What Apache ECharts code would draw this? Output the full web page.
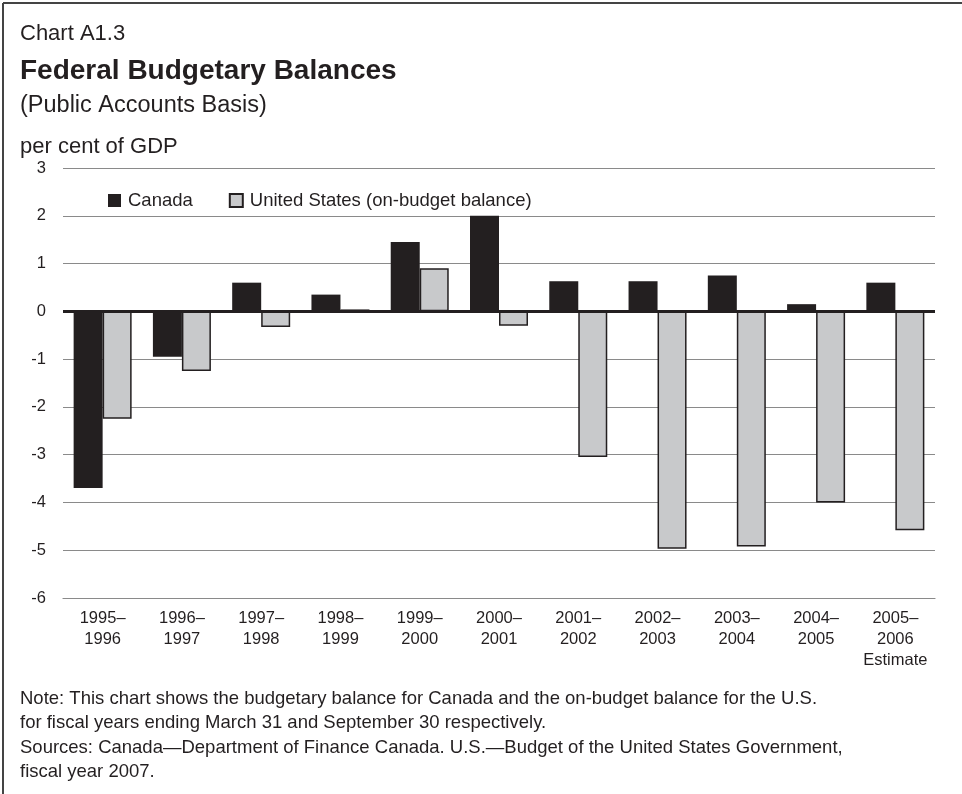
<!DOCTYPE html>
<html>
<head>
<meta charset="utf-8">
<script src="https://cdn.jsdelivr.net/npm/echarts@6/dist/echarts.min.js"></script>
<style>
  html, body { margin: 0; padding: 0; background: #fff; }
  #chart { width: 962px; height: 794px; }
</style>
</head>
<body>
<div id="chart"></div>
<script>
var years = ['1995–\n1996', '1996–\n1997', '1997–\n1998', '1998–\n1999', '1999–\n2000', '2000–\n2001',
             '2001–\n2002', '2002–\n2003', '2003–\n2004', '2004–\n2005', '2005–\n2006\nEstimate'];
var canada = [-3.7, -0.95, 0.6, 0.35, 1.45, 2.0, 0.63, 0.63, 0.75, 0.15, 0.6];
var unitedStates = [-2.25, -1.25, -0.33, 0.04, 0.9, -0.3, -3.05, -4.97, -4.92, -4.0, -4.58];

var ink = '#231f20';
var font = '"Liberation Sans", Arial, Helvetica, sans-serif';

var myChart = echarts.init(document.getElementById('chart'));

var option = {
    backgroundColor: '#fff',
    animation: false,
    textStyle: { fontFamily: font, color: ink },
    title: [{
        text: 'Chart A1.3',
        left: 15, top: 18,
        textStyle: { fontSize: 22, fontWeight: 'normal', color: ink, fontFamily: font }
    }, {
        text: 'Federal Budgetary Balances',
        left: 15, top: 52,
        textStyle: { fontSize: 28, fontWeight: 'bold', color: ink, fontFamily: font }
    }, {
        text: '(Public Accounts Basis)',
        left: 15, top: 89,
        textStyle: { fontSize: 23.5, fontWeight: 'normal', color: ink, fontFamily: font }
    }, {
        text: 'per cent of GDP',
        left: 15, top: 131,
        textStyle: { fontSize: 22, fontWeight: 'normal', color: ink, fontFamily: font }
    }],
    legend: {
        left: 103, top: 186,
        icon: 'rect',
        itemWidth: 13, itemHeight: 13,
        itemGap: 36,
        textStyle: { fontSize: 18.5, color: ink, fontFamily: font, padding: [0, 0, 0, 2] },
        data: ['Canada', 'United States (on-budget balance)']
    },
    grid: {
        left: 63, right: 27, top: 168, bottom: 196
    },
    xAxis: {
        type: 'category',
        data: years,
        axisLine: { onZero: false, lineStyle: { color: '#8a8a8a', width: 1.2 } },
        axisTick: { alignWithLabel: true, length: 6, lineStyle: { color: '#8a8a8a' } },
        axisLabel: {
            interval: 0,
            fontSize: 16.5, color: ink, fontFamily: font, lineHeight: 21, margin: 10
        }
    },
    yAxis: {
        type: 'value',
        min: -6, max: 3, interval: 1,
        axisLine: { show: false },
        axisTick: { show: false },
        axisLabel: { fontSize: 16.5, color: ink, fontFamily: font, margin: 17 },
        splitLine: { lineStyle: { color: '#8a8a8a', width: 1.2 } }
    },
    series: [{
        name: 'Canada',
        type: 'bar',
        data: canada,
        barWidth: 29,
        barGap: '0%',
        itemStyle: { color: ink }
    }, {
        name: 'United States (on-budget balance)',
        type: 'bar',
        data: unitedStates,
        barWidth: 29,
        barGap: '0%',
        itemStyle: { color: '#c8c9cb', borderColor: ink, borderWidth: 1.5 },
        markLine: {
            silent: true,
            symbol: 'none',
            z: 10,
            label: { show: false },
            lineStyle: { color: ink, width: 3, type: 'solid' },
            data: [{ yAxis: 0 }]
        }
    }],
    graphic: [{
        type: 'line',
        shape: { x1: 3, y1: 3, x2: 962, y2: 3 },
        style: { stroke: '#444', lineWidth: 2 }
    }, {
        type: 'line',
        shape: { x1: 3, y1: 3, x2: 3, y2: 794 },
        style: { stroke: '#444', lineWidth: 2 }
    }, {
        type: 'text',
        left: 20, top: 687,
        style: {
            text: 'Note: This chart shows the budgetary balance for Canada and the on-budget balance for the U.S.\nfor fiscal years ending March 31 and September 30 respectively.',
            font: '18.5px ' + font, fill: ink, lineHeight: 24
        }
    }, {
        type: 'text',
        left: 20, top: 736,
        style: {
            text: 'Sources: Canada—Department of Finance Canada. U.S.—Budget of the United States Government,\nfiscal year 2007.',
            font: '18.5px ' + font, fill: ink, lineHeight: 24
        }
    }]
};

myChart.setOption(option);
</script>
</body>
</html>
